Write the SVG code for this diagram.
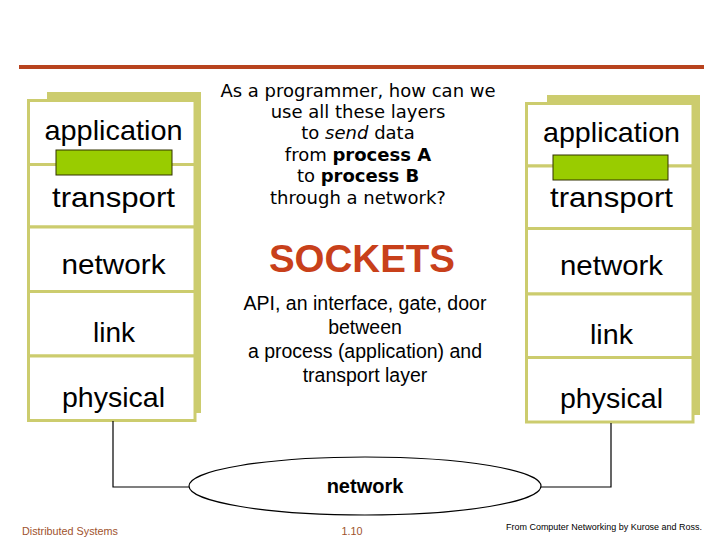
<svg xmlns="http://www.w3.org/2000/svg" width="720" height="540" viewBox="0 0 720 540">
<style>
.back{fill:#cccc6e;}
.layer{fill:#ffffff;stroke:#cccc6e;stroke-width:3;}
.sock{fill:#99cc00;stroke:#333300;stroke-width:1;}
.lt{font-family:"Liberation Sans",Arial,sans-serif;font-size:28px;fill:#000;text-anchor:middle;}
.q{font-family:"DejaVu Sans",Verdana,sans-serif;font-size:18px;fill:#000;text-anchor:middle;}
.api{font-family:"Liberation Sans",Arial,sans-serif;font-size:19.5px;fill:#000;text-anchor:middle;}
.conn{fill:none;stroke:#000;stroke-width:1.2;}
</style>
<rect x="0" y="0" width="720" height="540" fill="#ffffff"/>
<line x1="19" y1="67" x2="704" y2="67" stroke="#b8431e" stroke-width="4"/>

<g id="left-stack">
  <rect class="back" x="47" y="92" width="154" height="321"/>
  <rect class="layer" x="28.5" y="100.5" width="166.5" height="64"/>
  <rect class="layer" x="28.5" y="164.5" width="166.5" height="62.5"/>
  <rect class="layer" x="28.5" y="227" width="166.5" height="64.5"/>
  <rect class="layer" x="28.5" y="291.5" width="166.5" height="64.5"/>
  <rect class="layer" x="28.5" y="356" width="166.5" height="64.5"/>
  <text class="lt" x="113.5" y="140" textLength="138" lengthAdjust="spacingAndGlyphs">application</text>
  <text class="lt" x="113.5" y="207" textLength="123" lengthAdjust="spacingAndGlyphs">transport</text>
  <text class="lt" x="113.5" y="274" textLength="104" lengthAdjust="spacingAndGlyphs">network</text>
  <text class="lt" x="114" y="342" textLength="42" lengthAdjust="spacingAndGlyphs">link</text>
  <text class="lt" x="113.5" y="407" textLength="103" lengthAdjust="spacingAndGlyphs">physical</text>
  <rect class="sock" x="56" y="150" width="116" height="25"/>
</g>

<g id="right-stack">
  <rect class="back" x="547" y="95" width="153" height="320"/>
  <rect class="layer" x="526.5" y="103.5" width="166.5" height="62.5"/>
  <rect class="layer" x="526.5" y="166" width="166.5" height="62.5"/>
  <rect class="layer" x="526.5" y="228.5" width="166.5" height="65.5"/>
  <rect class="layer" x="526.5" y="294" width="166.5" height="63.5"/>
  <rect class="layer" x="526.5" y="357.5" width="166.5" height="64.5"/>
  <text class="lt" x="611.5" y="142" textLength="137" lengthAdjust="spacingAndGlyphs">application</text>
  <text class="lt" x="611.5" y="207" textLength="123" lengthAdjust="spacingAndGlyphs">transport</text>
  <text class="lt" x="611.5" y="275" textLength="103" lengthAdjust="spacingAndGlyphs">network</text>
  <text class="lt" x="611.5" y="344" textLength="43" lengthAdjust="spacingAndGlyphs">link</text>
  <text class="lt" x="611.5" y="408" textLength="103" lengthAdjust="spacingAndGlyphs">physical</text>
  <rect class="sock" x="553" y="155" width="115" height="25"/>
</g>

<g id="question">
  <text class="q" x="358" y="97">As a programmer, how can we</text>
  <text class="q" x="358" y="118">use all these layers</text>
  <text class="q" x="358" y="139">to <tspan font-style="italic">send</tspan> data</text>
  <text class="q" x="358" y="161">from <tspan font-weight="bold">process A</tspan></text>
  <text class="q" x="358" y="182">to <tspan font-weight="bold">process B</tspan></text>
  <text class="q" x="358" y="204">through a network?</text>
</g>

<g id="sockets">
  <text x="362" y="272" font-family="'Liberation Sans',Arial,sans-serif" font-size="38.5" font-weight="bold" fill="#c8401a" text-anchor="middle">SOCKETS</text>
  <text class="api" x="365" y="310">API, an interface, gate, door</text>
  <text class="api" x="365" y="334">between</text>
  <text class="api" x="365" y="358">a process (application) and</text>
  <text class="api" x="365" y="382">transport layer</text>
</g>

<g id="network">
  <ellipse cx="365" cy="486" rx="176" ry="29" fill="#ffffff" stroke="#000" stroke-width="1.2"/>
  <text x="365" y="493" font-family="'Liberation Sans',Arial,sans-serif" font-size="20" font-weight="bold" fill="#000" text-anchor="middle">network</text>
</g>

<g id="connectors">
  <polyline class="conn" points="113,421 113,487 189,487"/>
  <polyline class="conn" points="611,423 611,487 541,487"/>
</g>

<g id="footer">
  <text x="22" y="535" font-family="'Liberation Sans',Arial,sans-serif" font-size="10.8" fill="#a0522d">Distributed Systems</text>
  <text x="352" y="535" font-family="'Liberation Sans',Arial,sans-serif" font-size="10.8" fill="#a0522d" text-anchor="middle">1.10</text>
  <text x="506" y="530" font-family="'Liberation Sans',Arial,sans-serif" font-size="9" fill="#000" textLength="196" lengthAdjust="spacingAndGlyphs">From Computer Networking by Kurose and Ross.</text>
</g>
</svg>
